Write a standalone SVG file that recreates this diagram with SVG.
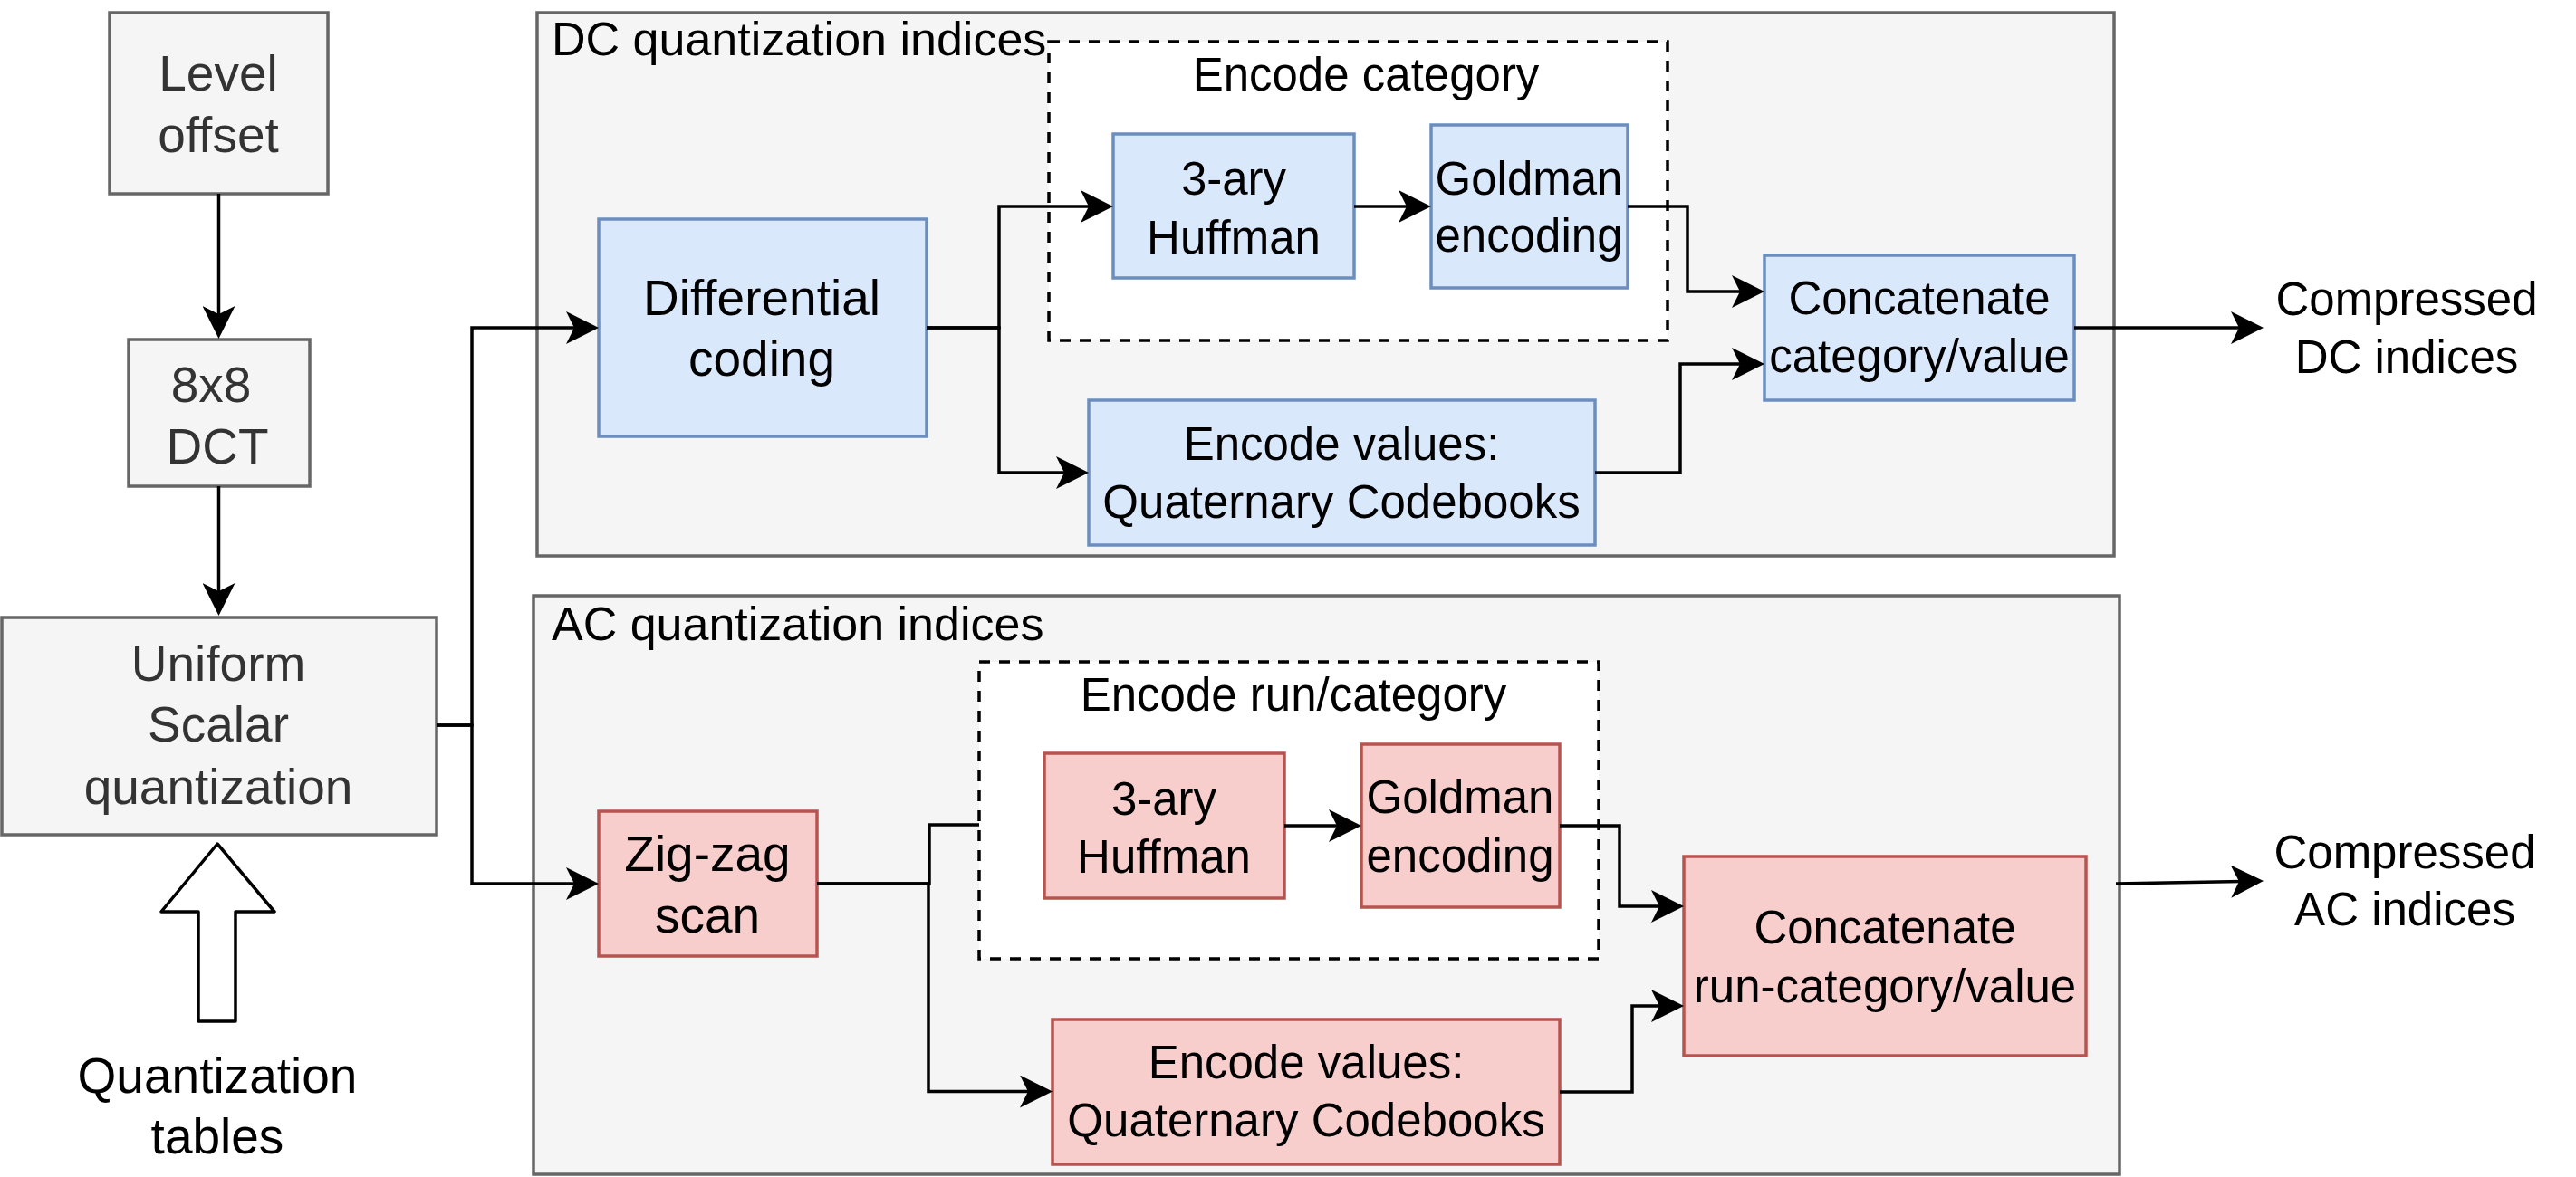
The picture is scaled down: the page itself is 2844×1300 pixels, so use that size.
<svg xmlns="http://www.w3.org/2000/svg" width="2844" height="1300" viewBox="0 0 2844 1300">
<style>
text{font-family:"Liberation Sans",Arial,Helvetica,sans-serif;fill:#000;text-anchor:middle}
.g rect{fill:#f5f5f5;stroke:#666666;stroke-width:3.5}
.g text{fill:#333333;font-size:55px}
.cont{fill:#f5f5f5;stroke:#666666;stroke-width:3.5}
.lbl{font-size:52px;text-anchor:start}
.dash{fill:#ffffff;stroke:#000;stroke-width:3.5;stroke-dasharray:12 10}
.b rect{fill:#dae8fc;stroke:#6c8ebf;stroke-width:3.5}
.r rect{fill:#f8cecc;stroke:#b85450;stroke-width:3.5}
.t51{font-size:51px}
.t55{font-size:55px}
.conn path{fill:none;stroke:#000;stroke-width:3.5}
.arr{marker-end:url(#ah)}
</style>
<defs>
<marker id="ah" markerUnits="userSpaceOnUse" markerWidth="36" markerHeight="36" viewBox="0 0 36 36" refX="26" refY="18" orient="auto">
<path d="M0,0 L36,18 L0,36 L9,18 Z" fill="#000"/>
</marker>
</defs>
<rect width="2844" height="1300" fill="#ffffff"/>

<!-- containers -->
<g id="dc-container">
<rect class="cont" x="593" y="14" width="1741" height="600"/>
<text class="lbl" x="609" y="61">DC quantization indices</text>
</g>
<g id="ac-container">
<rect class="cont" x="589" y="658" width="1751" height="639"/>
<text class="lbl" x="609" y="707">AC quantization indices</text>
</g>
<g id="dc-encode-category">
<rect class="dash" x="1158" y="46" width="683" height="330"/>
<text class="t51" x="1508" y="100">Encode category</text>
</g>
<g id="ac-encode-runcategory">
<rect class="dash" x="1081" y="731" width="684" height="328"/>
<text class="t51" x="1428" y="785">Encode run/category</text>
</g>

<!-- left column -->
<g id="level-offset" class="g">
<rect x="121" y="14" width="241" height="200"/>
<text x="241" y="100">Level</text>
<text x="241" y="168">offset</text>
</g>
<g id="dct" class="g">
<rect x="142" y="375" width="200" height="162"/>
<text x="233" y="444">8x8</text>
<text x="240" y="512">DCT</text>
</g>
<g id="uniform-quant" class="g">
<rect x="2" y="682" width="480" height="240"/>
<text x="241" y="752">Uniform</text>
<text x="241" y="819">Scalar</text>
<text x="241" y="888">quantization</text>
</g>
<g id="quant-tables">
<polygon points="240,932 303,1007 260,1007 260,1128 219,1128 219,1007 178,1007" fill="#ffffff" stroke="#000" stroke-width="3.5" stroke-linejoin="round"/>
<text class="t55" x="240" y="1207">Quantization</text>
<text class="t55" x="240" y="1274">tables</text>
</g>

<!-- DC nodes -->
<g id="dc-differential" class="b">
<rect x="661" y="242" width="362" height="240"/>
<text class="t55" x="841" y="348">Differential</text>
<text class="t55" x="841" y="415">coding</text>
</g>
<g id="dc-huffman" class="b">
<rect x="1229" y="148" width="266" height="159"/>
<text class="t51" x="1362" y="215">3-ary</text>
<text class="t51" x="1362" y="280">Huffman</text>
</g>
<g id="dc-goldman" class="b">
<rect x="1580" y="138" width="217" height="180"/>
<text class="t51" x="1688" y="215">Goldman</text>
<text class="t51" x="1688" y="278">encoding</text>
</g>
<g id="dc-values" class="b">
<rect x="1202" y="442" width="559" height="160"/>
<text class="t51" x="1481" y="508">Encode values:</text>
<text class="t51" x="1481" y="572">Quaternary Codebooks</text>
</g>
<g id="dc-concat" class="b">
<rect x="1948" y="282" width="342" height="160"/>
<text class="t51" x="2119" y="347">Concatenate</text>
<text class="t51" x="2119" y="411">category/value</text>
</g>
<g id="dc-output">
<text class="t51" x="2657" y="348">Compressed</text>
<text class="t51" x="2657" y="412">DC indices</text>
</g>

<!-- AC nodes -->
<g id="ac-zigzag" class="r">
<rect x="661" y="896" width="241" height="160"/>
<text class="t55" x="781" y="962">Zig-zag</text>
<text class="t55" x="781" y="1030">scan</text>
</g>
<g id="ac-huffman" class="r">
<rect x="1153" y="832" width="265" height="160"/>
<text class="t51" x="1285" y="900">3-ary</text>
<text class="t51" x="1285" y="964">Huffman</text>
</g>
<g id="ac-goldman" class="r">
<rect x="1503" y="822" width="219" height="180"/>
<text class="t51" x="1612" y="898">Goldman</text>
<text class="t51" x="1612" y="963">encoding</text>
</g>
<g id="ac-values" class="r">
<rect x="1162" y="1126" width="560" height="160"/>
<text class="t51" x="1442" y="1191">Encode values:</text>
<text class="t51" x="1442" y="1255">Quaternary Codebooks</text>
</g>
<g id="ac-concat" class="r">
<rect x="1859" y="946" width="444" height="220"/>
<text class="t51" x="2081" y="1042">Concatenate</text>
<text class="t51" x="2081" y="1107">run-category/value</text>
</g>
<g id="ac-output">
<text class="t51" x="2655" y="959">Compressed</text>
<text class="t51" x="2655" y="1022">AC indices</text>
</g>

<!-- connectors -->
<g id="connectors" class="conn">
<path class="arr" d="M241.5,214 V364"/>
<path class="arr" d="M241.5,537 V670"/>
<path class="arr" d="M482,801 H521 V362 H651"/>
<path class="arr" d="M482,801 H521 V976 H651"/>
<path class="arr" d="M1023,362 H1103 V228 H1219"/>
<path class="arr" d="M1023,362 H1103 V522 H1192"/>
<path class="arr" d="M1495,228 H1570"/>
<path class="arr" d="M1797,228 H1863 V322 H1938"/>
<path class="arr" d="M1761,522 H1855 V402 H1938"/>
<path class="arr" d="M2290,362 H2489"/>
<path d="M902,976 H1026 V911 H1081"/>
<path class="arr" d="M902,976 H1025 V1205.5 H1152"/>
<path class="arr" d="M1418,912 H1493"/>
<path class="arr" d="M1722,912 H1788 V1001 H1849"/>
<path class="arr" d="M1722,1206 H1802 V1111 H1849"/>
<path class="arr" d="M2336,976 L2489,973.2"/>
</g>
</svg>
